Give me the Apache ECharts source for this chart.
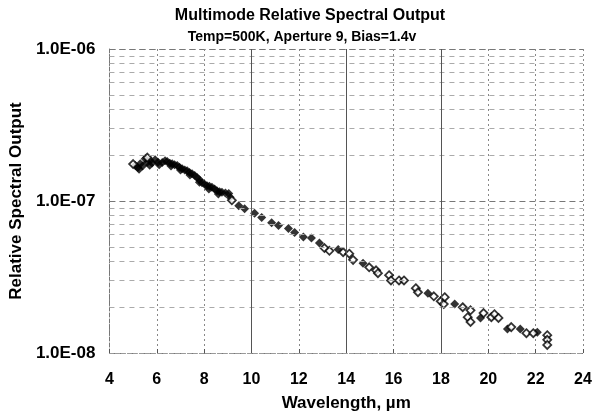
<!DOCTYPE html>
<html>
<head>
<meta charset="utf-8">
<style>
  html, body, #main { margin: 0; width: 597px; height: 417px; background: #fff; }
</style>
<script src="https://cdn.jsdelivr.net/npm/echarts@6/dist/echarts.min.js"></script>
</head>
<body>
<div id="main"></div>
<script>
// filled diamonds: [wavelength um, relative output]
const filledPts = [
  [5.09, 1.71e-7], [5.2, 1.66e-7], [5.3, 1.76e-7], [5.4, 1.70e-7], [5.51, 1.90e-7],
  [5.6, 1.80e-7], [5.72, 1.85e-7], [5.8, 1.78e-7], [5.93, 1.87e-7], [6.05, 1.80e-7],
  [6.23, 1.79e-7], [6.35, 1.84e-7], [6.44, 1.82e-7], [6.55, 1.77e-7], [6.65, 1.76e-7],
  [6.75, 1.73e-7], [6.86, 1.71e-7], [6.96, 1.67e-7], [7.07, 1.63e-7], [7.18, 1.60e-7],
  [7.28, 1.58e-7], [7.38, 1.54e-7], [7.49, 1.51e-7], [7.6, 1.47e-7], [7.70, 1.43e-7],
  [7.8, 1.38e-7], [7.91, 1.32e-7], [8.02, 1.29e-7], [8.12, 1.26e-7], [8.22, 1.25e-7],
  [8.33, 1.23e-7], [8.44, 1.20e-7], [8.54, 1.17e-7], [8.65, 1.15e-7], [8.75, 1.14e-7],
  [8.9, 1.13e-7], [9.04, 1.12e-7], [9.46, 9.3e-8], [9.71, 8.9e-8], [10.13, 8.3e-8],
  [10.43, 7.8e-8], [10.85, 7.2e-8], [11.14, 6.9e-8], [11.56, 6.6e-8], [11.82, 6.2e-8],
  [12.19, 5.8e-8], [12.53, 5.7e-8], [12.87, 5.3e-8], [13.66, 4.8e-8], [14.71, 3.9e-8],
  [17.45, 2.47e-8], [18.58, 2.1e-8], [19.67, 1.7e-8], [20.81, 1.44e-8], [21.35, 1.44e-8],
  [22.07, 1.37e-8],
  // lower edge of the dense band
  [5.25, 1.62e-7], [5.7, 1.72e-7], [6.1, 1.73e-7], [6.6, 1.70e-7], [7.0, 1.60e-7],
  [7.4, 1.48e-7], [7.8, 1.33e-7], [8.2, 1.20e-7], [8.6, 1.11e-7], [9.1, 1.06e-7]
];
// open diamonds
const openPts = [
  [5.0, 1.75e-7], [5.6, 1.93e-7], [9.17, 1.01e-7], [13.08, 4.9e-8], [13.29, 4.7e-8],
  [13.87, 4.6e-8], [14.13, 4.5e-8], [14.29, 4.1e-8], [14.97, 3.66e-8], [15.26, 3.5e-8],
  [15.34, 3.35e-8], [15.81, 3.25e-8], [15.89, 3.0e-8], [16.23, 3.0e-8], [16.44, 3.0e-8],
  [16.94, 2.67e-8], [17.03, 2.51e-8], [17.70, 2.36e-8], [17.99, 2.19e-8], [18.12, 2.1e-8],
  [18.16, 2.33e-8], [18.92, 2.0e-8], [19.25, 1.91e-8], [19.13, 1.72e-8], [19.25, 1.6e-8],
  [19.80, 1.83e-8], [20.13, 1.72e-8], [20.26, 1.8e-8], [20.43, 1.7e-8], [20.97, 1.48e-8],
  [21.61, 1.35e-8], [21.90, 1.35e-8], [22.49, 1.31e-8], [22.49, 1.22e-8], [22.49, 1.13e-8]
];
const minorLevels = [2e-8, 3e-8, 4e-8, 5e-8, 6e-8, 7e-8, 8e-8, 9e-8,
  2e-7, 3e-7, 4e-7, 5e-7, 6e-7, 7e-7, 8e-7, 9e-7];
const darkVerticals = [10, 14, 18];

const font = 'Liberation Sans, Arial, sans-serif';
const chart = echarts.init(document.getElementById('main'), null, { renderer: 'canvas' });

function expLabel(v) {
  const e = Math.round(Math.log10(v));
  const s = Math.abs(e) < 10 ? '0' + Math.abs(e) : '' + Math.abs(e);
  return '1.0E' + (e < 0 ? '-' : '+') + s;
}

const gridLines = minorLevels.map(v => [{ coord: [4, v] }, { coord: [24, v] }])
  .concat(darkVerticals.map(x => [
    { coord: [x, 1e-8], lineStyle: { color: '#555', type: 'solid', width: 1 } },
    { coord: [x, 1e-6] }
  ]));

chart.setOption({
  animation: false,
  title: [
    { text: 'Multimode Relative Spectral Output', left: 305, top: 3, textAlign: 'center',
      textStyle: { fontFamily: font, fontSize: 16, fontWeight: 'bold', color: '#000' } },
    { text: 'Temp=500K, Aperture 9, Bias=1.4v', left: 297, top: 25, textAlign: 'center',
      textStyle: { fontFamily: font, fontSize: 14, fontWeight: 'bold', color: '#000' } }
  ],
  grid: { left: 107, right: 14, top: 49, bottom: 62 },
  xAxis: {
    type: 'value', min: 4, max: 24, interval: 2,
    name: 'Wavelength, \u00b5m', nameLocation: 'middle', nameGap: 42,
    nameTextStyle: { fontFamily: font, fontSize: 17, fontWeight: 'bold', color: '#000' },
    axisLine: { show: true, lineStyle: { color: '#999', type: 'dashed' } },
    axisTick: { show: true, inside: true, length: 4, lineStyle: { color: '#555' } },
    axisLabel: { fontFamily: font, fontSize: 16, fontWeight: 'bold', color: '#000', margin: 19 },
    splitLine: { show: true, lineStyle: { color: '#888', type: [2, 3], width: 1 } }
  },
  yAxis: {
    type: 'log', logBase: 10, min: 1e-8, max: 1e-6,
    name: 'Relative Spectral Output', nameLocation: 'middle', nameGap: 80,
    nameTextStyle: { fontFamily: font, fontSize: 17, fontWeight: 'bold', color: '#000' },
    axisLine: { show: true, lineStyle: { color: '#777', type: 'dashed' } },
    axisTick: { show: false },
    axisLabel: { fontFamily: font, fontSize: 17, fontWeight: 'bold', color: '#000', margin: 14,
      formatter: expLabel },
    splitLine: { show: true, lineStyle: { color: '#777', type: [6, 4] } }
  },
  series: [
    {
      type: 'scatter', data: filledPts, symbol: 'diamond', symbolSize: 9,
      itemStyle: { color: '#000' }, z: 3,
      markLine: {
        silent: true, symbol: 'none', label: { show: false },
        lineStyle: { color: '#aaa', type: [5, 5], width: 1 },
        data: gridLines
      }
    },
    {
      type: 'scatter', data: openPts, symbol: 'diamond', symbolSize: 8,
      itemStyle: { color: '#fff', borderColor: '#000', borderWidth: 1.8 }, z: 4
    }
  ]
});
</script>
</body>
</html>
